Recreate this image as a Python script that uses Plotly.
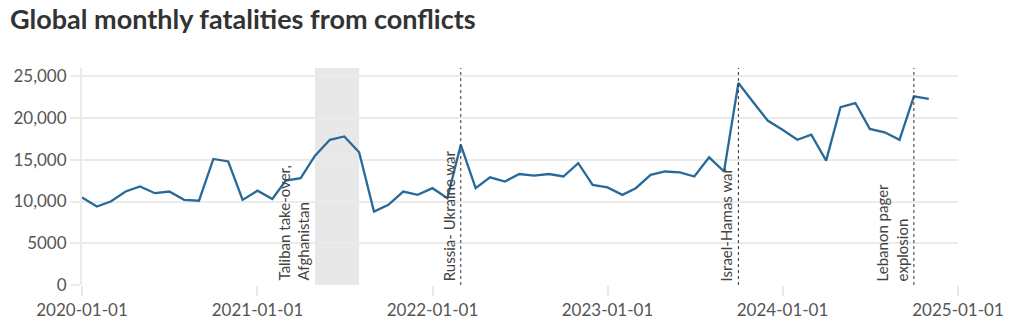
import plotly.graph_objects as go

months = [
    "2020-01-01", "2020-02-01", "2020-03-01", "2020-04-01", "2020-05-01", "2020-06-01",
    "2020-07-01", "2020-08-01", "2020-09-01", "2020-10-01", "2020-11-01", "2020-12-01",
    "2021-01-01", "2021-02-01", "2021-03-01", "2021-04-01", "2021-05-01", "2021-06-01",
    "2021-07-01", "2021-08-01", "2021-09-01", "2021-10-01", "2021-11-01", "2021-12-01",
    "2022-01-01", "2022-02-01", "2022-03-01", "2022-04-01", "2022-05-01", "2022-06-01",
    "2022-07-01", "2022-08-01", "2022-09-01", "2022-10-01", "2022-11-01", "2022-12-01",
    "2023-01-01", "2023-02-01", "2023-03-01", "2023-04-01", "2023-05-01", "2023-06-01",
    "2023-07-01", "2023-08-01", "2023-09-01", "2023-10-01", "2023-11-01", "2023-12-01",
    "2024-01-01", "2024-02-01", "2024-03-01", "2024-04-01", "2024-05-01", "2024-06-01",
    "2024-07-01", "2024-08-01", "2024-09-01", "2024-10-01", "2024-11-01",
]
fatalities = [
    10500, 9400, 10000, 11200, 11800, 11000, 11200, 10200, 10100, 15100, 14800, 10200,
    11300, 10300, 12500, 12800, 15500, 17400, 17800, 15900, 8800, 9600, 11200, 10800,
    11600, 10400, 16800, 11600, 12900, 12400, 13300, 13100, 13300, 13000, 14600, 12000,
    11700, 10800, 11600, 13200, 13600, 13500, 13000, 15300, 13600, 24200, 21900, 19700,
    18600, 17400, 18000, 14900, 21300, 21800, 18700, 18300, 17400, 22600, 22300,
]

event_dates = ["2022-03-01", "2023-10-01", "2024-10-01"]
event_labels = ["Russia- Ukraine war", "Israel-Hamas war", "Lebanon pager<br>explosion"]

shade_start = "2021-05-01"
shade_end = "2021-08-01"
shade_label = "Taliban take-over,<br>Afghanistan"

y_tickvals = [0, 5000, 10000, 15000, 20000, 25000]
y_ticktext = ["0", "5000", "10,000", "15,000", "20,000", "25,000"]
x_tickvals = ["2020-01-01", "2021-01-01", "2022-01-01", "2023-01-01", "2024-01-01", "2025-01-01"]

FONT = "Lato"
TEXT = "#555555"

fig = go.Figure()
fig.add_trace(go.Scatter(
    x=months, y=fatalities, mode="lines",
    line=dict(color="#276a9a", width=2.3),
    hoverinfo="x+y", showlegend=False,
))

fig.add_vrect(x0=shade_start, x1=shade_end, fillcolor="#e8e8e8", opacity=1,
              line_width=0, layer="below")

for d in event_dates:
    fig.add_shape(type="line", x0=d, x1=d, y0=0, y1=1, yref="paper",
                  line=dict(color="#333333", width=1, dash="dot"))

annos = [dict(x=shade_start, label=shade_label)] + [
    dict(x=d, label=l) for d, l in zip(event_dates, event_labels)]
for a in annos:
    fig.add_annotation(
        x=a["x"], y=0, yref="y", text=a["label"], textangle=-90,
        xanchor="right", yanchor="bottom", xshift=-1, yshift=2,
        showarrow=False, align="left",
        font=dict(family=FONT, size=15, color="#444444"),
    )

fig.update_layout(
    width=1023, height=332,
    margin=dict(l=82, r=65, t=68, b=45),
    paper_bgcolor="white", plot_bgcolor="white",
    font=dict(family=FONT, size=17, color=TEXT),
    title=dict(text="<b>Global monthly fatalities from conflicts</b>",
               x=10 / 1023, xanchor="left", xref="container",
               y=1 - 20 / 332, yanchor="middle", yref="container",
               font=dict(family=FONT, size=27, color="#333333")),
    xaxis=dict(
        type="date", range=["2020-01-01", "2025-01-01"],
        tickvals=x_tickvals, ticktext=x_tickvals,
        showgrid=False, zeroline=False,
        showline=False,
        ticks="outside", ticklen=10, tickwidth=2, tickcolor="#e8e8e8",
        tickfont=dict(family=FONT, size=17, color=TEXT),
    ),
    yaxis=dict(
        range=[0, 26000], tickvals=y_tickvals, ticktext=y_ticktext,
        showgrid=True, gridcolor="#ebebeb", gridwidth=2,
        zeroline=False, showline=True, linecolor="#ebebeb", linewidth=2,
        ticks="outside", ticklen=10, tickwidth=2, tickcolor="#ebebeb",
        tickfont=dict(family=FONT, size=17, color=TEXT),
    ),
)

fig.write_html("out.html")
